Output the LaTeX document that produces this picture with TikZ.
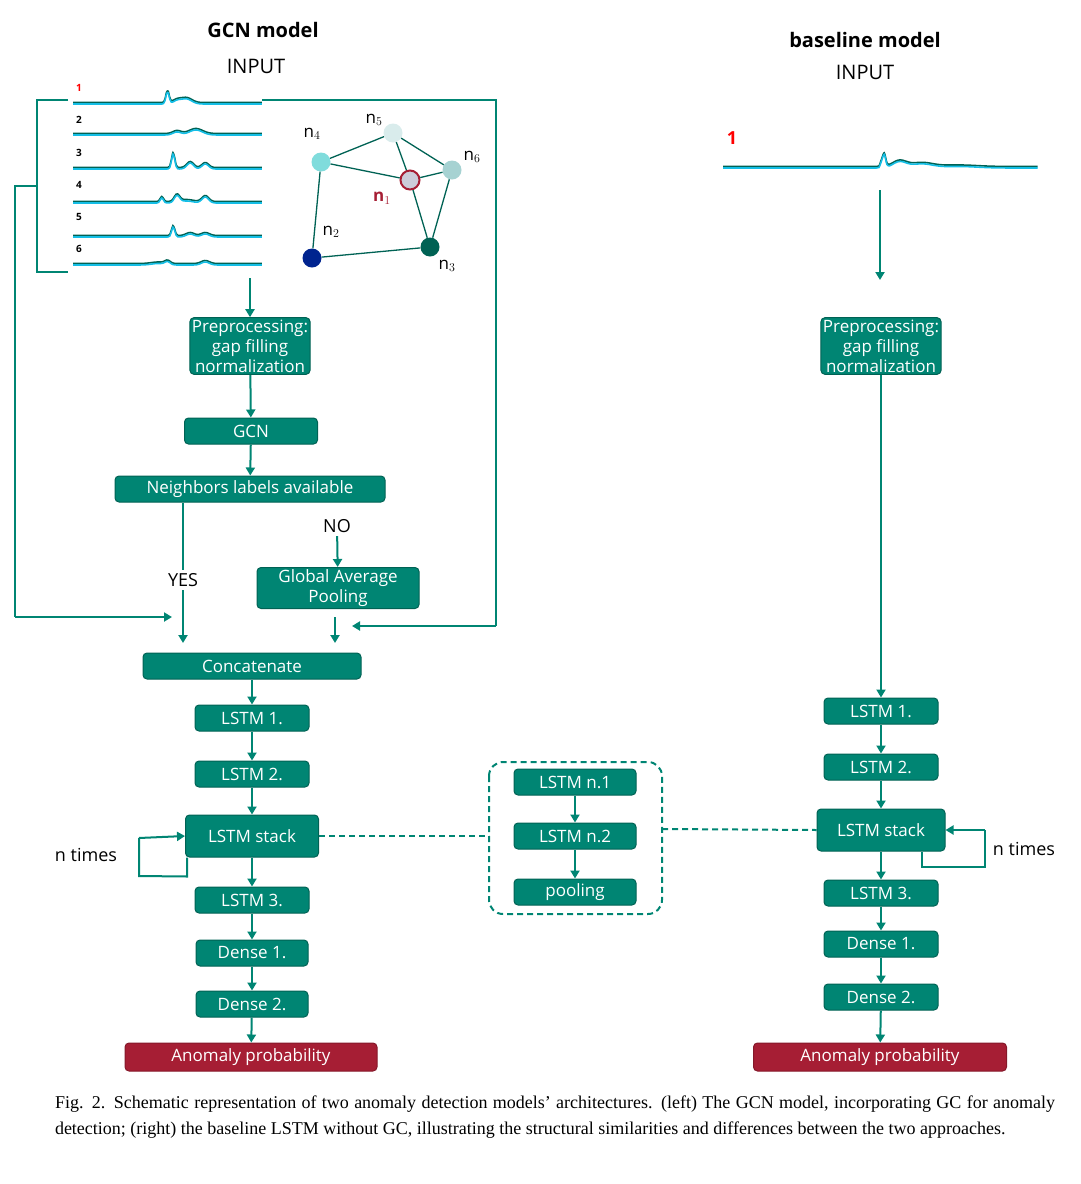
\documentclass[tikz,border=0pt]{standalone}
\usepackage{fontspec}
\setmainfont{Liberation Serif}
\newfontfamily\sansf{Open Sans}
\usetikzlibrary{arrows.meta,positioning}
\definecolor{tealbox}{RGB}{0,133,115}
\definecolor{tealdark}{RGB}{0,98,84}
\definecolor{redbox}{RGB}{166,30,52}
\definecolor{trace}{RGB}{20,190,230}
\tikzset{
  blk/.style={draw=tealdark,fill=tealbox,rounded corners=4pt,text=white,line width=1pt,
              font=\sansf\fontsize{17}{20}\selectfont,inner sep=2pt,minimum height=26pt,align=center},
  outbox/.style={blk,fill=redbox,draw=redbox!80!black},
  flow/.style={draw=tealbox,line width=2pt,-{Triangle[width=9pt,length=8pt]}},
  wire/.style={draw=tealbox,line width=2pt},
  dashwire/.style={draw=tealbox,line width=2pt,dash pattern=on 6pt off 4pt},
  lbl/.style={font=\sansf\fontsize{18}{20}\selectfont},
  gn/.style={circle,minimum size=19pt,inner sep=0pt},
  gl/.style={font=\sansf\fontsize{17}{20}\selectfont}
}
% signal trace: x0, baseline y, width, bump expression in \x
\newcommand\trace[4]{
  \draw[tealdark,line width=1.6pt] plot[smooth,samples=120,domain=0:1] ({#1+#3*\x},{#2-1.5-(#4)});
  \draw[trace,line width=1.6pt] plot[smooth,samples=120,domain=0:1] ({#1+#3*\x},{#2-(#4)});
}
\begin{document}
\begin{tikzpicture}[x=1pt,y=-1pt]
\useasboundingbox (0,0) rectangle (1080,1184);
% titles
\node[font=\sansf\bfseries\fontsize{20}{22}\selectfont] (tg) at (263,30) {GCN model};
\node[lbl,font=\sansf\fontsize{20}{22}\selectfont] (ig) at (256,66) {INPUT};
\node[font=\sansf\bfseries\fontsize{20}{22}\selectfont] (tb) at (865,40) {baseline model};
\node[lbl,font=\sansf\fontsize{20}{22}\selectfont] (ib) at (865,72) {INPUT};
% input signals
\trace{73}{104}{189}{12*exp(-((\x-0.5)/0.012)^2)+5*exp(-((\x-0.6)/0.04)^2)+3*exp(-((\x-0.55)/0.03)^2)}
\trace{73}{135}{189}{3*exp(-((\x-0.55)/0.03)^2)+5*exp(-((\x-0.65)/0.05)^2)}
\trace{73}{169}{189}{15*exp(-((\x-0.53)/0.012)^2)+6*exp(-((\x-0.62)/0.025)^2)+5*exp(-((\x-0.7)/0.025)^2)}
\trace{73}{203}{189}{5*exp(-((\x-0.47)/0.012)^2)+7*exp(-((\x-0.55)/0.02)^2)+6*exp(-((\x-0.7)/0.025)^2)+2*exp(-((\x-0.6)/0.05)^2)}
\trace{73}{237}{189}{10*exp(-((\x-0.53)/0.012)^2)+3*exp(-((\x-0.62)/0.03)^2)+3*exp(-((\x-0.7)/0.03)^2)}
\trace{73}{265}{189}{3*exp(-((\x-0.5)/0.02)^2)+3*exp(-((\x-0.7)/0.03)^2)+1.5*exp(-((\x-0.45)/0.05)^2)}
\foreach \k/\yy in {2/120,3/153,4/185,5/217,6/249}
  \node[font=\sansf\bfseries\fontsize{10}{10}\selectfont] (s\k) at (79,\yy) {\k};
\node[text=red,font=\sansf\bfseries\fontsize{10}{10}\selectfont] (s1) at (79,88) {1};
\trace{723}{168}{315}{14*exp(-((\x-0.51)/0.008)^2)+6*exp(-((\x-0.56)/0.03)^2)+4*exp(-((\x-0.63)/0.05)^2)+1.5*exp(-((\x-0.75)/0.08)^2)}
\node[text=red,font=\sansf\bfseries\fontsize{18}{18}\selectfont] (sb) at (732,138) {1};
% graph
\node[gn,fill=teal!55!cyan!50] (n4) at (321,162) {};
\node[gn,fill=teal!15] (n5) at (393,133) {};
\node[gn,fill=teal!35] (n6) at (452,170) {};
\node[gn,fill=blue!15!gray!35,draw=redbox,line width=2pt] (n1) at (410,180) {};
\node[gn,fill=tealdark] (n3) at (430,247) {};
\node[gn,fill=blue!60!teal!70!black] (n2) at (312,258) {};
\draw[tealdark,line width=1.3pt] (n4)--(n5) (n5)--(n6) (n5)--(n1) (n4)--(n1) (n1)--(n6)
  (n4)--(n2) (n2)--(n3) (n1)--(n3) (n6)--(n3);
\node[gl] at (312,134) {n$_4$};
\node[gl] at (374,120) {n$_5$};
\node[gl] at (472,157) {n$_6$};
\node[gl,text=redbox,font=\sansf\bfseries\fontsize{17}{20}\selectfont] at (382,198) {n$_1$};
\node[gl] at (331,232) {n$_2$};
\node[gl] at (447,266) {n$_3$};
% bracket and side wires
\draw[wire] (68,100) -- (37,100) -- (37,272) -- (68,272);
\coordinate (ba) at (37,186);
\coordinate (ya) at (172,617);
\draw[wire] (ba) -- (15,186) -- (15,617);
\draw[flow] (15,617) -- (ya);
\coordinate (fr) at (262,100);
\coordinate (ga) at (352,626);
\draw[wire] (fr) -- (496,100) -- (496,626);
\draw[flow] (496,626) -- (ga);
% left column
\coordinate (in) at (250,278);
\node[blk] (pre) at (250,346) {Preprocessing:\\gap filling\\normalization};
\node[blk,minimum width=133pt] (gcn) at (251,431) {GCN};
\node[blk,minimum width=270pt] (nb) at (250,489) {Neighbors labels available};
\node[lbl] (no) at (337,526) {NO};
\node[blk,minimum width=162pt] (gap) at (338,588) {Global Average\\Pooling};
\node[lbl] (yes) at (183,580) {YES};
\node[blk,minimum width=218pt] (cat) at (252,666) {Concatenate};
\node[blk,minimum width=114pt] (l1) at (252,718) {LSTM 1.};
\node[blk,minimum width=114pt] (l2) at (252,774) {LSTM 2.};
\node[blk,minimum width=133pt,minimum height=42pt] (ls) at (252,836) {LSTM stack};
\node[blk,minimum width=114pt] (l3) at (252,900) {LSTM 3.};
\node[blk,minimum width=112pt] (d1) at (252,953) {Dense 1.};
\node[blk,minimum width=112pt] (d2) at (252,1004) {Dense 2.};
\node[outbox,minimum width=252pt,minimum height=28pt] (ap) at (251,1057) {Anomaly probability};
\coordinate (yb) at (183,643);
\coordinate (gb) at (335,643);
\draw[flow] (in) -- (pre);
\draw[flow] (pre) -- (gcn);
\draw[flow] (gcn) -- (nb);
\draw[wire] (nb.south -| yes) -- (yes.north);
\draw[flow] (yes.south) -- (yb);
\draw[flow] (no) -- (gap);
\draw[flow] (gap.south -| gb) ++(0,8) -- (gb);
\draw[flow] (cat) -- (l1);
\draw[flow] (l1) -- (l2);
\draw[flow] (l2) -- (ls);
\draw[flow] (ls) -- (l3);
\draw[flow] (l3) -- (d1);
\draw[flow] (d1) -- (d2);
\draw[flow] (d2) -- (ap);
\draw[wire] ([xshift=2pt]ls.south west) -- ++(0,19) -- (139,876) -- (139,838);
\draw[flow] (139,838) -- (ls.west);
\node[lbl] (nt1) at (86,855) {n times};
% middle block
\node[blk,minimum width=122pt] (m1) at (575,782) {LSTM n.1};
\node[blk,minimum width=122pt] (m2) at (575,836) {LSTM n.2};
\node[blk,minimum width=122pt] (m3) at (575,892) {pooling};
\draw[flow] (m1) -- (m2);
\draw[flow] (m2) -- (m3);
\draw[dashwire,rounded corners=14pt] (489,762) rectangle (662,914);
\coordinate (mw) at (489,836);
\coordinate (me) at (662,829);
\draw[dashwire] (ls.east) -- (mw);
% right column
\node[blk] (preb) at (881,346) {Preprocessing:\\gap filling\\normalization};
\node[blk,minimum width=114pt] (r1) at (881,711) {LSTM 1.};
\node[blk,minimum width=114pt] (r2) at (881,767) {LSTM 2.};
\node[blk,minimum width=128pt,minimum height=42pt] (rs) at (881,830) {LSTM stack};
\node[blk,minimum width=114pt] (r3) at (881,893) {LSTM 3.};
\node[blk,minimum width=114pt] (rd1) at (881,944) {Dense 1.};
\node[blk,minimum width=114pt] (rd2) at (881,997) {Dense 2.};
\node[outbox,minimum width=253pt,minimum height=28pt] (apb) at (880,1057) {Anomaly probability};
\coordinate (sbo) at (880,190);
\coordinate (sbe) at (880,280);
\draw[flow] (sbo) -- (sbe);
\draw[flow] (preb) -- (r1);
\draw[flow] (r1) -- (r2);
\draw[flow] (r2) -- (rs);
\draw[flow] (rs) -- (r3);
\draw[flow] (r3) -- (rd1);
\draw[flow] (rd1) -- (rd2);
\draw[flow] (rd2) -- (apb);
\draw[wire] (922,852) -- (922,867) -- (985,867) -- (985,830);
\draw[flow] (985,830) -- (rs.east);
\node[lbl] (nt2) at (1024,849) {n times};
\draw[dashwire] (me) -- (rs.west);
% caption
\node[text width=1000pt,align=justify,font=\fontsize{18}{26}\selectfont,inner sep=0pt,anchor=north] (cap) at (555,1096)
 {\textsc{Fig}. 2. Schematic representation of two anomaly detection models' architectures. (left) The GCN model, incorporating GC for anomaly detection; (right) the baseline LSTM without GC, illustrating the structural similarities and differences between the two approaches.};
\end{tikzpicture}
\end{document}
